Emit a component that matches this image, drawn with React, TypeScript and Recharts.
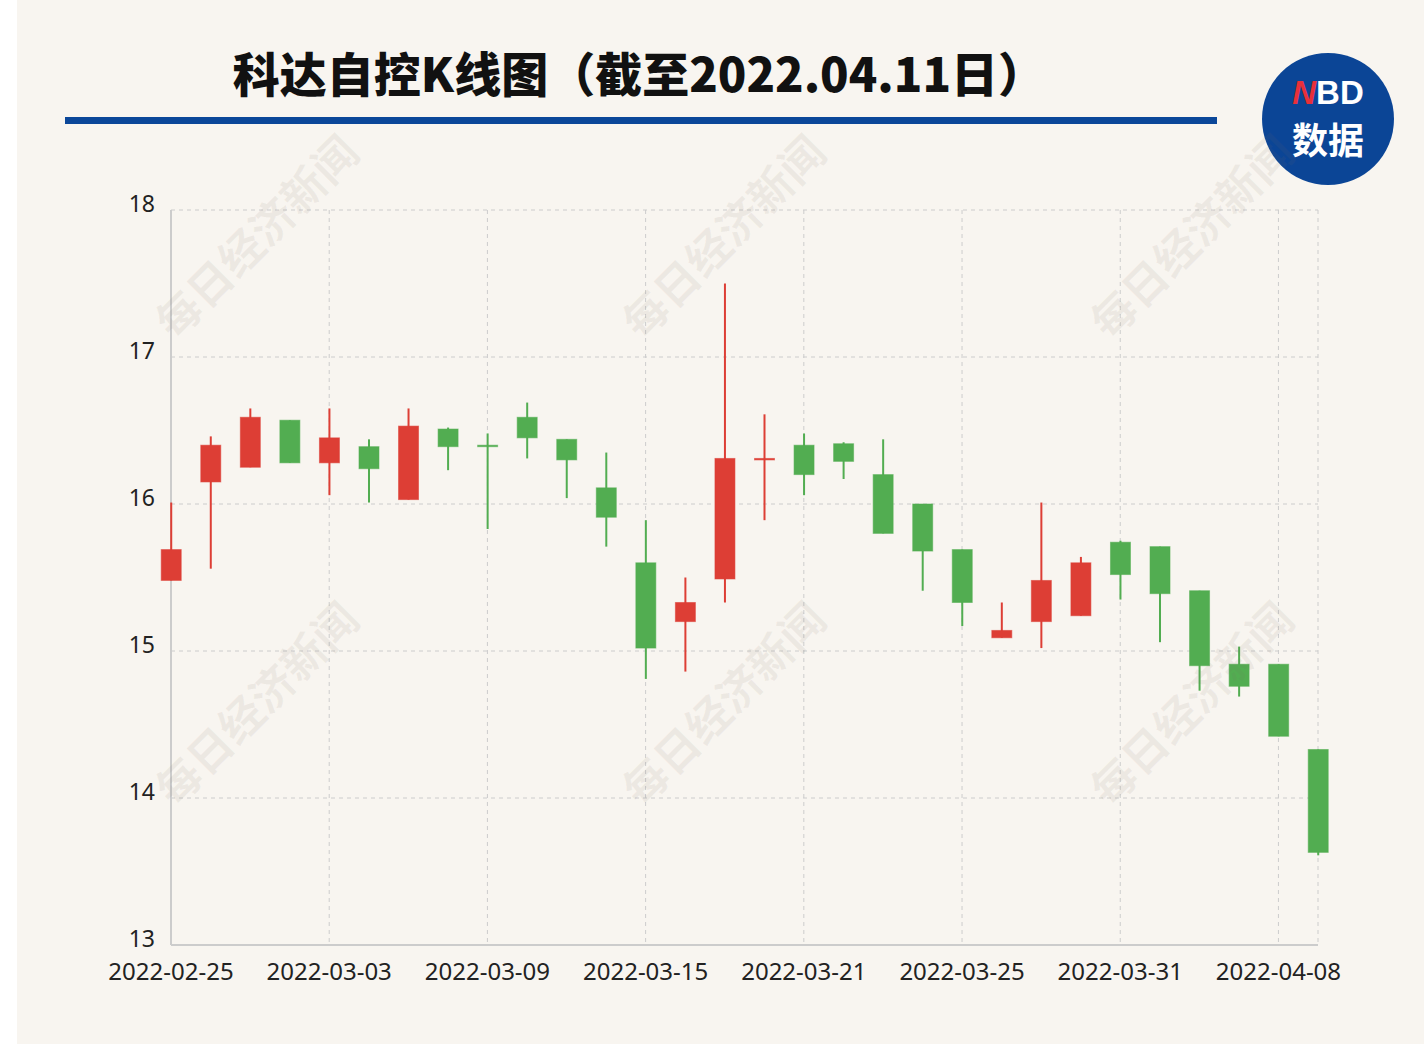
import { ComposedChart, Bar, XAxis, YAxis, CartesianGrid } from "recharts"

// trading days shown on the chart
const dates = [
  "2022-02-25", "2022-02-28", "2022-03-01", "2022-03-02", "2022-03-03",
  "2022-03-04", "2022-03-07", "2022-03-08", "2022-03-09", "2022-03-10",
  "2022-03-11", "2022-03-14", "2022-03-15", "2022-03-16", "2022-03-17",
  "2022-03-18", "2022-03-21", "2022-03-22", "2022-03-23", "2022-03-24",
  "2022-03-25", "2022-03-28", "2022-03-29", "2022-03-30", "2022-03-31",
  "2022-04-01", "2022-04-06", "2022-04-07", "2022-04-08", "2022-04-11",
]

const openPrices = [
  15.48, 16.15, 16.25, 16.57, 16.28, 16.39, 16.03, 16.51, 16.4, 16.59,
  16.44, 16.11, 15.6, 15.2, 15.49, 16.31, 16.4, 16.41, 16.2, 16.0,
  15.69, 15.09, 15.2, 15.24, 15.74, 15.71, 15.41, 14.91, 14.91, 14.33,
]
const closePrices = [
  15.69, 16.4, 16.59, 16.28, 16.45, 16.24, 16.53, 16.39, 16.39, 16.45,
  16.3, 15.91, 15.02, 15.33, 16.31, 16.31, 16.2, 16.29, 15.8, 15.68,
  15.33, 15.14, 15.48, 15.6, 15.52, 15.39, 14.9, 14.76, 14.42, 13.63,
]
const highPrices = [
  16.01, 16.46, 16.65, 16.57, 16.65, 16.44, 16.65, 16.52, 16.48, 16.69,
  16.44, 16.35, 15.89, 15.5, 17.5, 16.61, 16.48, 16.42, 16.44, 16.0,
  15.69, 15.33, 16.01, 15.64, 15.75, 15.71, 15.41, 15.03, 14.91, 14.33,
]
const lowPrices = [
  15.48, 15.56, 16.25, 16.28, 16.06, 16.01, 16.03, 16.23, 15.83, 16.31,
  16.04, 15.71, 14.81, 14.86, 15.33, 15.89, 16.06, 16.17, 15.8, 15.41,
  15.17, 15.09, 15.02, 15.24, 15.35, 15.06, 14.73, 14.69, 14.42, 13.61,
]

const xTicks = [0, 4, 8, 12, 16, 20, 24, 28]
const yTicks = [13, 14, 15, 16, 17, 18]

const RED = "#dd3e35"
const GREEN = "#52ad51"

const data = dates.map((d, i) => ({
  i,
  date: d,
  open: openPrices[i],
  close: closePrices[i],
  high: highPrices[i],
  low: lowPrices[i],
  range: [lowPrices[i], highPrices[i]],
}))

// wick spans the bar (low..high), body is placed inside it by proportion
function Candle(props: any) {
  const { x, y, width, height, payload } = props
  if (payload == null) return null
  const { open, close, high, low } = payload
  const cx = x + width / 2
  const py = (v: number) => y + ((high - v) / (high - low)) * height
  const color = close >= open ? RED : GREEN
  const top = py(Math.max(open, close))
  const bot = py(Math.min(open, close))
  return (
    <g>
      <line x1={cx} x2={cx} y1={y} y2={y + height} stroke={color} strokeWidth={2} />
      <rect
        x={cx - 10}
        y={top}
        width={20}
        height={Math.max(bot - top, 1.5)}
        fill={color}
        stroke={color}
        strokeOpacity={0.55}
        strokeWidth={1}
      />
    </g>
  )
}

const YTick = ({ x, y, payload }: any) => (
  <text x={x} y={y} dy={2} textAnchor="end" fontSize={23} fill="#222" fontFamily="Noto Sans">
    {payload.value}
  </text>
)

const XTick = ({ x, y, payload }: any) => (
  <text x={x} y={y} dy={20} textAnchor="middle" fontSize={24} fill="#222" fontFamily="Noto Sans">
    {dates[payload.value]}
  </text>
)

const marks = [
  [255, 235], [722, 235], [1190, 235],
  [255, 702], [722, 702], [1190, 702],
]

export default function App() {
  return (
    <div style={{ position: "absolute", left: 0, top: 0, width: 1424, height: 1044, background: "#fff", overflow: "hidden" }}>
      <div style={{ position: "absolute", left: 17, top: 0, width: 1407, height: 1044, background: "#f8f5f0" }} />

      <div
        style={{
          position: "absolute",
          left: 10,
          width: 1258,
          top: 42,
          textAlign: "center",
          fontFamily: "'Noto Sans CJK SC', 'Noto Sans', sans-serif",
          fontWeight: 900,
          fontSize: 47,
          lineHeight: "60px",
          color: "#111",
        }}
      >
        科达自控K线图（截至2022.04.11日）
      </div>
      <div style={{ position: "absolute", left: 65, top: 117, width: 1152, height: 7, background: "#0b4799" }} />

      <div
        style={{
          position: "absolute",
          left: 1262,
          top: 53,
          width: 132,
          height: 132,
          borderRadius: "50%",
          background: "#0b4596",
          color: "#fff",
          fontWeight: 700,
        }}
      >
        <div style={{ position: "absolute", left: 0, width: 132, top: 23, textAlign: "center", fontFamily: "'Liberation Sans', Arial, sans-serif", fontSize: 33, lineHeight: "33px" }}>
          <span style={{ color: "#e8303a", fontStyle: "italic" }}>N</span>BD
        </div>
        <div style={{ position: "absolute", left: 0, width: 132, top: 67, textAlign: "center", fontFamily: "'Noto Sans CJK SC', sans-serif", fontSize: 36, lineHeight: "36px" }}>
          数据
        </div>
      </div>

      <div style={{ position: "absolute", left: 0, top: 0 }}>
        <ComposedChart
          width={1424}
          height={1044}
          data={data}
          margin={{ top: 210, right: 106, bottom: 69, left: 111 }}
        >
          <CartesianGrid stroke="#cccccc" strokeDasharray="4 4" />
          {/* solid y-axis line drawn behind the candles */}
          <CartesianGrid
            stroke="#cccccc"
            strokeWidth={2}
            horizontal={false}
            verticalCoordinatesGenerator={({ offset }: any) => [offset.left]}
          />
          <XAxis
            type="number"
            dataKey="i"
            domain={[0, 29]}
            ticks={xTicks}
            tick={<XTick />}
            interval={0}
            tickLine={false}
            tickSize={0}
            tickMargin={15}
            height={30}
            axisLine={{ stroke: "#cccccc", strokeWidth: 2 }}
          />
          <YAxis
            type="number"
            domain={[13, 18]}
            ticks={yTicks}
            tick={<YTick />}
            interval={0}
            tickLine={false}
            tickSize={0}
            tickMargin={16}
            width={60}
            axisLine={false}
          />
          <Bar dataKey="range" barSize={20} shape={<Candle />} isAnimationActive={false} />
        </ComposedChart>
      </div>

      {marks.map(([mx, my], k) => (
        <div
          key={k}
          style={{
            position: "absolute",
            left: mx - 160,
            top: my - 25,
            width: 320,
            height: 50,
            textAlign: "center",
            lineHeight: "50px",
            transform: "rotate(-45deg)",
            fontFamily: "'Noto Sans CJK SC', serif",
            fontWeight: 700,
            fontSize: 44,
            color: "rgba(120, 110, 100, 0.09)",
            pointerEvents: "none",
          }}
        >
          每日经济新闻
        </div>
      ))}
    </div>
  )
}
